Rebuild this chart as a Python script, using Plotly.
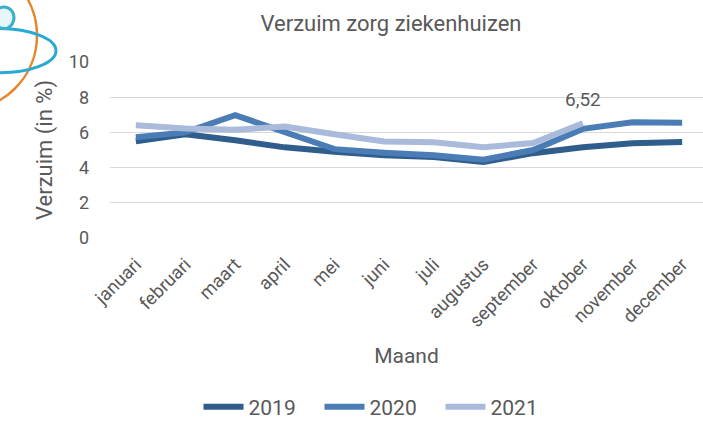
import plotly.graph_objects as go

months = ["januari", "februari", "maart", "april", "mei", "juni", "juli",
          "augustus", "september", "oktober", "november", "december"]
y2019 = [5.5, 5.9, 5.55, 5.15, 4.9, 4.7, 4.6, 4.32, 4.82, 5.15, 5.38, 5.45]
y2020 = [5.72, 6.0, 6.98, 6.0, 5.05, 4.85, 4.7, 4.45, 5.0, 6.2, 6.58, 6.55]
y2021 = [6.4, 6.22, 6.15, 6.33, 5.9, 5.48, 5.44, 5.16, 5.4, 6.52]
label_value = 6.52

W, H = 703, 428
L, R, T, B = 110, 0, 62, 187
gray = "#595959"
font = "Roboto, sans-serif"

fig = go.Figure()
fig.add_trace(go.Scatter(x=months, y=y2019, mode="lines", name="2019",
                         line=dict(color="#2f5d8c", width=6)))
fig.add_trace(go.Scatter(x=months, y=y2020, mode="lines", name="2020",
                         line=dict(color="#4a7db6", width=6)))
fig.add_trace(go.Scatter(x=months[:len(y2021)], y=y2021, mode="lines", name="2021",
                         line=dict(color="#a9badb", width=6)))

fig.add_annotation(x=months[len(y2021) - 1], y=y2021[-1],
                   text=f"{label_value:.2f}".replace(".", ","),
                   showarrow=False, yshift=24,
                   font=dict(size=19, color=gray, family=font))

# decorative logo fragment (top-left)
def px(xp):
    return (xp - L) / (W - L - R)

def py(yp):
    return (H - B - yp) / (H - T - B)

fig.add_shape(type="circle", xref="paper", yref="paper",
              x0=px(-117), x1=px(37), y0=py(112), y1=py(-42),
              line=dict(color="#e8862a", width=2.5))
fig.add_shape(type="circle", xref="paper", yref="paper",
              x0=px(-60), x1=px(56), y0=py(73), y1=py(28),
              line=dict(color="#2aa8d4", width=3))
fig.add_shape(type="circle", xref="paper", yref="paper",
              x0=px(-6), x1=px(14), y0=py(28), y1=py(6),
              line=dict(color="#3bb0c9", width=3), fillcolor="#e6f6f9")

fig.update_layout(
    width=W, height=H,
    margin=dict(l=L, r=R, t=T, b=B),
    paper_bgcolor="white", plot_bgcolor="white",
    font=dict(family=font, color=gray, size=15),
    title=dict(text="Verzuim zorg ziekenhuizen", x=(391 / W), xanchor="center",
               y=1 - 23 / H, yanchor="middle",
               font=dict(size=22, color=gray, family=font)),
    xaxis=dict(type="category", range=[-0.52, 11.42], tickangle=-45,
               showgrid=False, zeroline=False, showline=False, automargin=False,
               tickfont=dict(size=18.5, color=gray), ticklabelstandoff=11,
               title=dict(text="Maand", font=dict(size=21, color=gray), standoff=17)),
    yaxis=dict(range=[0, 10], dtick=2, showgrid=True, gridcolor="#d9d9d9",
               gridwidth=1, zeroline=False, showline=False, automargin=False,
               tickfont=dict(size=18, color=gray), ticklabelstandoff=20,
               title=dict(text="Verzuim (in %)", font=dict(size=22, color=gray), standoff=10)),
    legend=dict(orientation="h", x=px(380), xanchor="center", y=py(413), yanchor="middle",
                font=dict(size=21, color=gray), itemwidth=40, traceorder="normal",
                entrywidth=66, entrywidthmode="pixels"),
    showlegend=True,
)

fig.write_html("out.html", config={"displayModeBar": False},
               post_script="document.body.style.margin='0';document.body.style.overflow='hidden';")
